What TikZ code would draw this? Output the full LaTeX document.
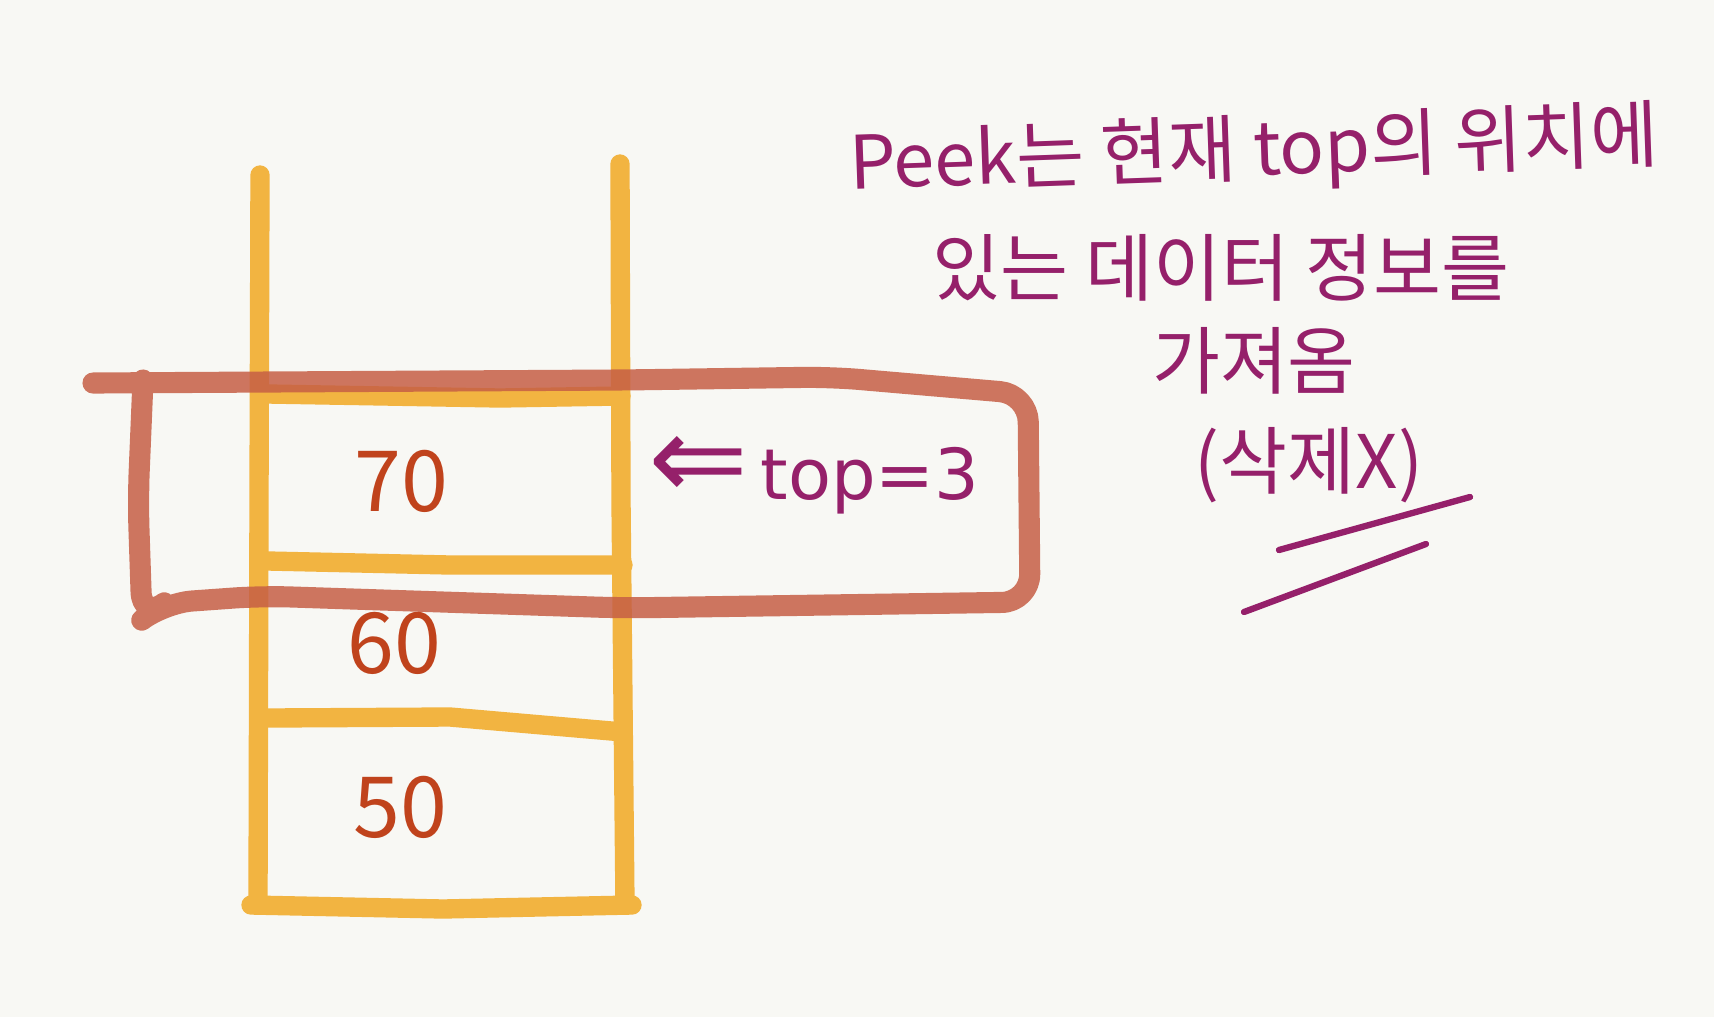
\documentclass[tikz,border=0pt]{standalone}
\usepackage{fontspec}
\setmainfont{Noto Sans CJK KR}
\newfontfamily\arrowfont{DejaVu Sans}
\definecolor{bg}{HTML}{F8F8F4}
\definecolor{stackcol}{HTML}{F2B441}
\definecolor{hilitecol}{HTML}{C65F45}
\definecolor{numcol}{HTML}{C0431C}
\definecolor{notecol}{HTML}{95206A}

\begin{document}
\begin{tikzpicture}[line cap=round, line join=round, x=0.01cm, y=-0.01cm,
        stackline/.style={stackcol, line width=5.5pt},
        hilite/.style={hilitecol, line width=6pt, opacity=0.85, rounded corners=8pt},
        num/.style={numcol, inner sep=0pt, font=\fontsize{24}{28}\selectfont},
        note/.style={notecol, inner sep=0pt, font=\fontsize{21}{25}\selectfont},
        underline/.style={notecol, line width=1.8pt}]

    \fill[bg] (0,0) rectangle (1714,1017);
    \useasboundingbox (0,0) rectangle (1714,1017);

    % stack
    \draw[stackline] (260,175) -- (259,500) -- (258,905);
    \draw[stackline] (620,164) -- (621,500) -- (625,905);
    \draw[stackline] (251,905) -- (443,909) -- (632,905);
    \draw[stackline] (268,394) -- (500,398) -- (621,396);
    \draw[stackline] (268,561) -- (450,565) -- (623,565);
    \draw[stackline] (268,718) -- (450,717) -- (623,732);

    \node[num] (v70) at (401,481) {70};
    \node[num] (v60) at (394,643) {60};
    \node[num] (v50) at (400,807) {50};

    % top element
    \draw[hilite] (93,383) -- (623,380) -- (831,377) -- (1028,394) -- (1030,602)
        -- (623,608) -- (262,596) -- (164,603) -- (142,620) -- (138,500) -- (143,380);

    \node[note, font=\arrowfont\fontsize{20}{24}\selectfont] (top) at (814,475)
        {{\fontsize{34}{34}\selectfont ⇐}\,top=3};

    % note
    \node[note, rotate=2] (line1) at (1254,153) {Peek는 현재 top의 위치에};
    \node[note] (line2) at (1221,268) {있는 데이터 정보를};
    \node[note] (line3) at (1254,361) {가져옴};
    \node[note] (line4) at (1309,465) {(삭제X)};

    \draw[underline] (1279,550) -- (1470,497);
    \draw[underline] (1244,612) -- (1426,544);

\end{tikzpicture}
\end{document}
